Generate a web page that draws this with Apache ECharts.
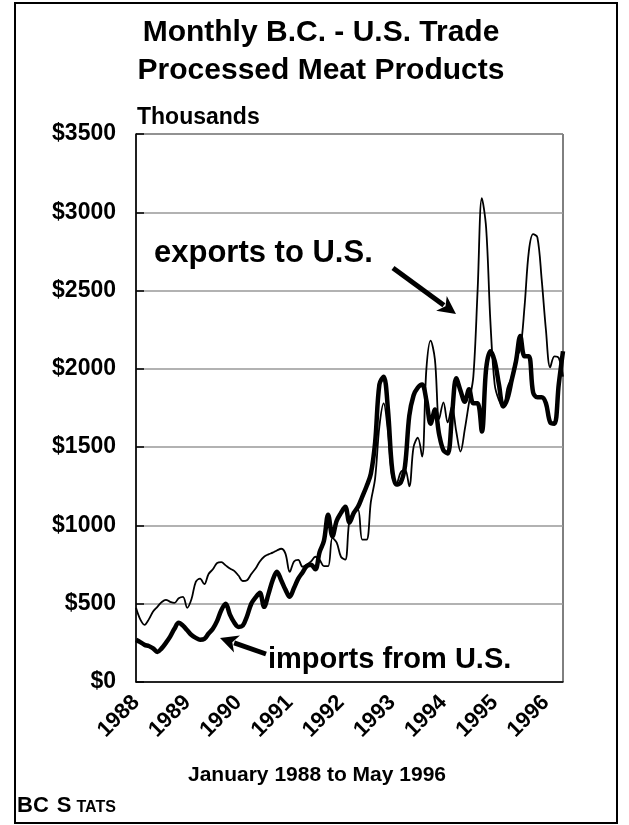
<!DOCTYPE html>
<html>
<head>
<meta charset="utf-8">
<script src="https://cdn.jsdelivr.net/npm/echarts@6/dist/echarts.min.js"></script>
<style>
html,body{margin:0;padding:0;background:#fff;}
#frame{position:absolute;left:14px;top:2px;width:600px;height:818px;border:2px solid #000;}
#chart{position:absolute;left:0;top:0;width:629px;height:825px;}
</style>
</head>
<body>
<div id="frame"></div>
<div id="chart"></div>
<script>
// Monthly, January 1988 to May 1996 (thousands of dollars)
const yearLabels = ['1988','1989','1990','1991','1992','1993','1994','1995','1996'];
const yTicks = [0, 500, 1000, 1500, 2000, 2500, 3000, 3500];
const exportsToUS = [
  474,400,365,400,450,480,510,525,512,505,535,544,
  474,530,640,660,625,690,720,760,765,745,725,710,
  680,645,650,690,725,770,800,815,826,840,851,820,
  704,770,780,736,750,770,800,780,740,740,920,890,
  800,781,1037,1080,1100,909,909,1150,1300,1632,1780,1600,
  1312,1270,1340,1357,1250,1500,1560,1440,1997,2180,2060,1680,
  1786,1658,1760,1600,1472,1613,1786,1950,2500,3090,2900,2300,
  1900,1800,1760,1880,1950,2070,2125,2400,2750,2860,2840,2573,
  2250,2010,2080,2070,1950
];
const importsFromUS = [
  269,255,237,230,215,192,215,250,290,340,378,360,
  330,300,282,270,275,310,340,390,460,500,430,380,
  352,360,420,500,540,570,480,560,650,704,650,590,
  544,600,660,700,740,749,720,830,900,1069,930,1030,
  1080,1120,1018,1080,1120,1184,1250,1330,1530,1900,1950,1741,
  1357,1261,1274,1380,1700,1830,1880,1900,1800,1650,1740,1580,
  1480,1460,1700,1940,1860,1790,1870,1780,1780,1600,2000,2112,
  2050,1900,1760,1810,1930,2050,2210,2080,2080,1850,1818,1818,
  1780,1658,1650,1900,2112
];
const months = [];
for (let y = 0; y < yearLabels.length; y++) {
  for (let m = 1; m <= 12; m++) {
    if (months.length < exportsToUS.length) months.push(yearLabels[y] + '-' + (m < 10 ? '0' + m : m));
  }
}

const FONT = '"Liberation Sans", Arial, sans-serif';
const chart = echarts.init(document.getElementById('chart'), null, {renderer: 'canvas'});

function arrow(x1, y1, x2, y2) {
  const ang = Math.atan2(y2 - y1, x2 - x1);
  const L = 18, W = 9;
  const bx = x2 - L * Math.cos(ang), by = y2 - L * Math.sin(ang);
  const px = -Math.sin(ang) * W, py = Math.cos(ang) * W;
  return [
    {type: 'line', shape: {x1: x1, y1: y1, x2: bx + 3*Math.cos(ang), y2: by + 3*Math.sin(ang)}, style: {stroke: '#000', lineWidth: 5}, z: 10},
    {type: 'polygon', shape: {points: [[x2, y2], [bx + px, by + py], [bx + 5*Math.cos(ang), by + 5*Math.sin(ang)], [bx - px, by - py]]}, style: {fill: '#000'}, z: 10}
  ];
}

const option = {
  animation: false,
  backgroundColor: 'transparent',
  grid: {left: 136, right: 66, top: 134, bottom: 143, show: true, borderColor: '#000', borderWidth: 1},
  xAxis: {
    type: 'category',
    data: months,
    boundaryGap: false,
    axisLine: {lineStyle: {color: '#000', width: 1.5}},
    axisTick: {show: false},
    axisLabel: {
      interval: function (i) { return i % 12 === 0; },
      formatter: function (v) { return v.slice(0, 4); },
      rotate: 45, margin: 17,
      fontFamily: FONT, fontWeight: 'bold', fontSize: 22, color: '#000'
    },
    splitLine: {show: false}
  },
  yAxis: {
    type: 'value',
    min: yTicks[0], max: yTicks[yTicks.length - 1], interval: 500,
    axisLine: {show: true, lineStyle: {color: '#000', width: 1.5}},
    axisTick: {show: true, inside: true, length: 8, lineStyle: {color: '#000', width: 1.5}},
    axisLabel: {
      formatter: function (v) { return '$' + v; },
      margin: 20, fontFamily: FONT, fontWeight: 'bold', fontSize: 23, color: '#000'
    },
    splitLine: {show: true, lineStyle: {color: '#999', width: 1.5}}
  },
  series: [
    {name: 'exports to U.S.', type: 'line', data: exportsToUS, showSymbol: false, smooth: 0.35,
     lineStyle: {color: '#000', width: 1.8}, z: 3},
    {name: 'imports from U.S.', type: 'line', data: importsFromUS, showSymbol: false, smooth: 0.35,
     lineStyle: {color: '#000', width: 4.5}, z: 4}
  ],
  graphic: [
    {type: 'text', x: 321, y: 18, style: {text: 'Monthly B.C. - U.S. Trade', font: 'bold 30px ' + FONT, fill: '#000', align: 'center'}},
    {type: 'text', x: 321, y: 56, style: {text: 'Processed Meat Products', font: 'bold 30px ' + FONT, fill: '#000', align: 'center'}},
    {type: 'text', left: 137, top: 106, style: {text: 'Thousands', font: 'bold 23px ' + FONT, fill: '#000'}},
    {type: 'text', left: 154, top: 238, style: {text: 'exports to U.S.', font: 'bold 31px ' + FONT, fill: '#000'}},
    {type: 'text', left: 268, top: 645, style: {text: 'imports from U.S.', font: 'bold 29px ' + FONT, fill: '#000'}},
    {type: 'text', x: 317, y: 765, style: {text: 'January 1988 to May 1996', font: 'bold 21px ' + FONT, fill: '#000', align: 'center'}},
    {type: 'text', left: 17, top: 795, style: {
      text: '{a|BC}{s|S}{b|TATS}',
      rich: {
        a: {font: 'bold 22px ' + FONT, fill: '#000'},
        s: {font: 'bold 22px ' + FONT, fill: '#000', padding: [0, 0, 0, 8]},
        b: {font: 'bold 16px ' + FONT, fill: '#000', padding: [3, 0, 0, 5]}
      }
    }}
  ].concat(arrow(393, 268, 456, 314)).concat(arrow(266, 654, 220, 638))
};
chart.setOption(option);
</script>
</body>
</html>
